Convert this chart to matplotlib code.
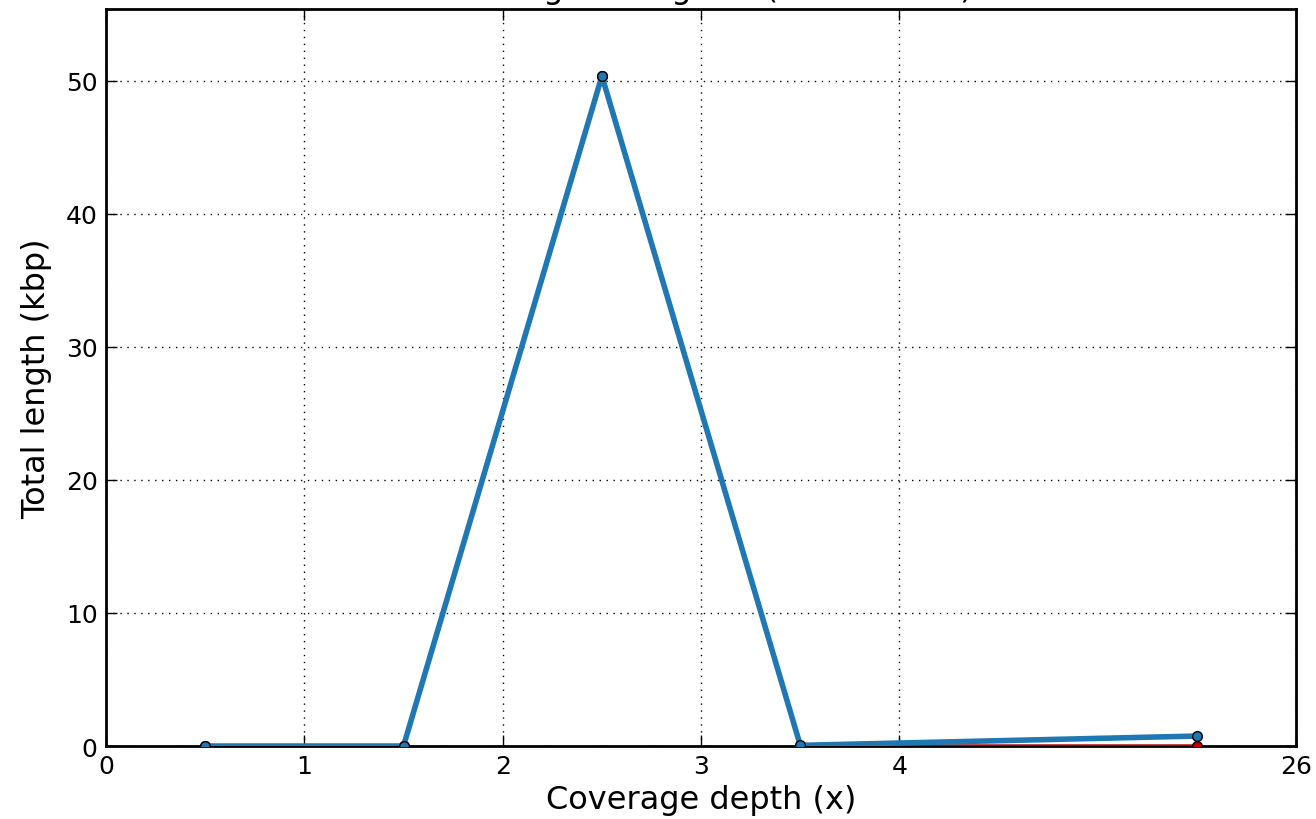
import matplotlib
matplotlib.use("Agg")
import matplotlib.pyplot as plt
import numpy as np

# bins of the coverage histogram (bin size 1x), last bin is the ">= 5" tail
x_pos = [0.5, 1.5, 2.5, 3.5, 5.5]
tick_pos = [0, 1, 2, 3, 4, 6]
tick_labels = ["0", "1", "2", "3", "4", "26"]

total_kbp = [0.0, 0.0, 50.35, 0.05, 0.75]
ref_kbp = [0.0, 0.0, 50.35, 0.0, 0.0]

fig = plt.figure(figsize=(13.16, 8.2), dpi=100)
ax = fig.add_axes([0.0805, 0.089, 0.9045, 0.899])

ax.plot(x_pos, ref_kbp, color="#b00000", lw=2.5, marker="o", ms=7,
        mfc="#c00000", mec="black", mew=1, zorder=3)
ax.plot(x_pos, total_kbp, color="#1f77b4", lw=4, marker="o", ms=7,
        mfc="#1f77b4", mec="black", mew=1, zorder=4)

ax.set_xlim(0, 6)
ax.set_ylim(0, 55.4)
ax.set_xticks(tick_pos)
ax.set_xticklabels(tick_labels)
ax.set_yticks([0, 10, 20, 30, 40, 50])

ax.grid(True, color="black", linestyle=(0, (1, 4)), linewidth=1)
ax.tick_params(direction="in", length=8, width=1, top=True, right=True,
               labelsize=18, pad=6)
for sp in ax.spines.values():
    sp.set_linewidth(2)

ax.set_xlabel("Coverage depth (x)", fontsize=23, labelpad=4)
ax.set_ylabel("Total length (kbp)", fontsize=23, labelpad=10)
ax.set_title("Coverage histogram (bin size: 1x)", fontsize=23, pad=8.5)

fig.savefig("out.png", dpi=100)
